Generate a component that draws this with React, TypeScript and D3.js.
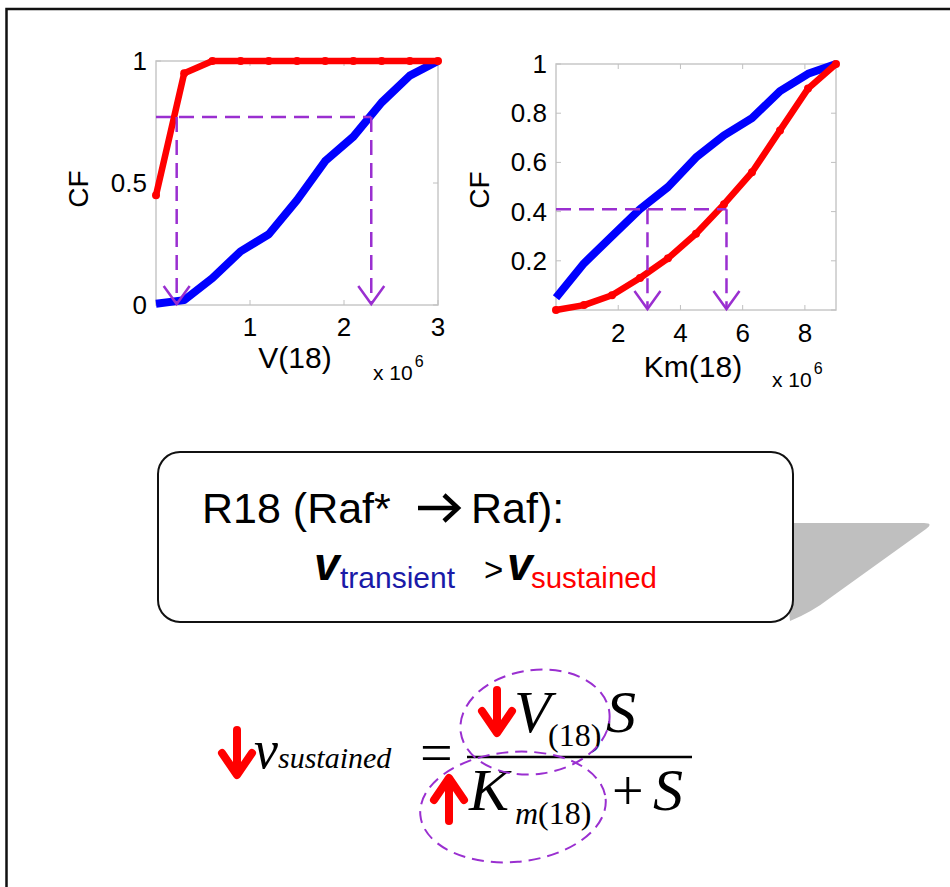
import React from "react";
import * as d3 from "d3";

// ---- Data (x in units of 10^6) ----
const vX = [0, 0.3, 0.6, 0.9, 1.2, 1.5, 1.8, 2.1, 2.4, 2.7, 3.0];
const vSustained = [0.45, 0.95, 1, 1, 1, 1, 1, 1, 1, 1, 1];
const vTransient = [0.005, 0.02, 0.11, 0.22, 0.29, 0.43, 0.59, 0.69, 0.83, 0.94, 1.0];
const vTicksX = [1, 2, 3];
const vTicksY = [0, 0.5, 1];
const vThreshold = 0.77;
const vArrowX = [0.22, 2.29];

const kmX = [0, 0.9, 1.8, 2.7, 3.6, 4.5, 5.4, 6.3, 7.2, 8.1, 9.0];
const kmTransient = [0.05, 0.19, 0.3, 0.41, 0.5, 0.62, 0.71, 0.78, 0.89, 0.96, 1.0];
const kmSustained = [0, 0.02, 0.06, 0.13, 0.21, 0.31, 0.43, 0.56, 0.73, 0.9, 1.0];
const kmTicksX = [2, 4, 6, 8];
const kmTicksY = [0.2, 0.4, 0.6, 0.8, 1];
const kmTicksYMarks = [0, 0.2, 0.4, 0.6, 0.8, 1];
const kmThreshold = 0.41;
const kmArrowX = [2.94, 5.48];

const BLUE = "#0000ff";
const RED = "#ff0000";
const PURPLE = "#9a2fd0";
const SANS = "'Liberation Sans', Arial, sans-serif";
const SERIF = "'Liberation Serif', 'Times New Roman', serif";

type PanelProps = {
  x0: number; x1: number; y0: number; y1: number;
  xDomain: [number, number];
  xs: number[]; red: number[]; blue: number[];
  ticksX: number[]; ticksY: number[]; tickMarksY: number[];
  threshold: number; arrowX: number[];
  xLabel: string; xLabelPos: [number, number];
  expPos: [number, number];
  cfPos: [number, number];
  xTickBaseline: number;
  yLabelRight: number;
};

function Panel(p: PanelProps) {
  const x = d3.scaleLinear().domain(p.xDomain).range([p.x0, p.x1]);
  const y = d3.scaleLinear().domain([0, 1]).range([p.y1, p.y0]);
  const line = d3.line<number>().x((_, i) => x(p.xs[i])).y((d) => y(d));
  const ty = y(p.threshold);
  const xr = x(Math.max(...p.arrowX));
  return (
    <g>
      <rect x={p.x0} y={p.y0} width={p.x1 - p.x0} height={p.y1 - p.y0} fill="none" stroke="#c8c8c8" strokeWidth={1.5} />
      {p.ticksX.map((t) => (
        <g key={"tx" + t}>
          <line x1={x(t)} x2={x(t)} y1={p.y1} y2={p.y1 - 5} stroke="#c0c0c0" />
          <line x1={x(t)} x2={x(t)} y1={p.y0} y2={p.y0 + 5} stroke="#c0c0c0" />
          <text x={x(t)} y={p.xTickBaseline} textAnchor="middle" fontFamily={SANS} fontSize={26} fill="#000">{t}</text>
        </g>
      ))}
      {p.tickMarksY.map((t) => (
        <g key={"tm" + t}>
          <line x1={p.x0} x2={p.x0 + 5} y1={y(t)} y2={y(t)} stroke="#c0c0c0" />
          <line x1={p.x1} x2={p.x1 - 5} y1={y(t)} y2={y(t)} stroke="#c0c0c0" />
        </g>
      ))}
      {p.ticksY.map((t) => (
        <text key={"ty" + t} x={p.yLabelRight} y={y(t) + 9} textAnchor="end" fontFamily={SANS} fontSize={26} fill="#000">{t}</text>
      ))}
      <path d={line(p.blue) || ""} fill="none" stroke={BLUE} strokeWidth={8} strokeLinejoin="round" />
      <path d={line(p.red) || ""} fill="none" stroke={RED} strokeWidth={6.5} strokeLinejoin="round" />
      {p.red.map((v, i) => (
        <circle key={"d" + i} cx={x(p.xs[i])} cy={y(v)} r={4} fill={RED} />
      ))}
      {/* threshold annotation */}
      <line x1={p.x0} x2={xr} y1={ty} y2={ty} stroke={PURPLE} strokeWidth={2.5} strokeDasharray="15 8" />
      {p.arrowX.map((a) => (
        <g key={"a" + a}>
          <line x1={x(a)} x2={x(a)} y1={ty} y2={p.y1 - 2} stroke={PURPLE} strokeWidth={2.5} strokeDasharray="15 8" />
          <path d={`M${x(a) - 13},${p.y1 - 19} L${x(a)},${p.y1 - 1} L${x(a) + 13},${p.y1 - 19}`} fill="none" stroke={PURPLE} strokeWidth={2.5} />
        </g>
      ))}
      <text x={p.xLabelPos[0]} y={p.xLabelPos[1]} textAnchor="middle" fontFamily={SANS} fontSize={30} fill="#000">{p.xLabel}</text>
      <text x={p.expPos[0]} y={p.expPos[1]} fontFamily={SANS} fontSize={21} fill="#000">
        x 10<tspan dy={-13} dx={2} fontSize={16}>6</tspan>
      </text>
      <text transform={`translate(${p.cfPos[0]},${p.cfPos[1]}) rotate(-90)`} textAnchor="middle" fontFamily={SANS} fontSize={28} fill="#000">CF</text>
    </g>
  );
}

function RedArrow({ x, y1, y2, hw, head }: { x: number; y1: number; y2: number; hw: number; head: number }) {
  // y1 = tail, y2 = tip
  const dir = y2 > y1 ? 1 : -1;
  return (
    <g stroke={RED} strokeWidth={8} strokeLinecap="round" strokeLinejoin="round" fill="none">
      <line x1={x} x2={x} y1={y1} y2={y2 - dir * 3} />
      <path d={`M${x - hw},${y2 - dir * head} L${x},${y2} L${x + hw},${y2 - dir * head}`} />
    </g>
  );
}

export default function App() {
  return (
    <svg width={950} height={887} style={{ position: "absolute", left: 0, top: 0, background: "#fff" }}>
      <rect x={0} y={0} width={950} height={887} fill="#fff" />
      <rect x={6.5} y={9} width={1000} height={1000} fill="none" stroke="#111" strokeWidth={2.5} />

      <Panel
        x0={156} x1={438} y0={61} y1={305}
        xDomain={[0, 3]}
        xs={vX} red={vSustained} blue={vTransient}
        ticksX={vTicksX} ticksY={vTicksY} tickMarksY={vTicksY}
        threshold={vThreshold} arrowX={vArrowX}
        xLabel="V(18)" xLabelPos={[295, 368]} expPos={[373, 380]}
        cfPos={[88, 189]} xTickBaseline={336} yLabelRight={147}
      />
      <Panel
        x0={556} x1={836} y0={64} y1={310}
        xDomain={[0, 9]}
        xs={kmX} red={kmSustained} blue={kmTransient}
        ticksX={kmTicksX} ticksY={kmTicksY} tickMarksY={kmTicksYMarks}
        threshold={kmThreshold} arrowX={kmArrowX}
        xLabel="Km(18)" xLabelPos={[693, 377]} expPos={[772, 387]}
        cfPos={[489, 190]} xTickBaseline={342} yLabelRight={547}
      />

      {/* callout box with shadow */}
      <path d="M780,523 L924,523 Q934,523 926,529 L830,598 Q812,612 790,621 Z" fill="#bfbfbf" />
      <rect x={158} y={452} width={635} height={170} rx={22} ry={22} fill="#fff" stroke="#111" strokeWidth={2} />
      <text x={202} y={523} fontFamily={SANS} fontSize={43} fill="#000">R18 (Raf*</text>
      <g stroke="#000" strokeWidth={4.5} fill="none" strokeLinejoin="miter">
        <line x1={418} x2={456} y1={508} y2={508} />
        <path d="M444,495 L458,508 L444,521" />
      </g>
      <text x={471} y={523} fontFamily={SANS} fontSize={43} fill="#000">Raf):</text>

      <text x={314} y={580} fontFamily={SANS} fontSize={46} fontWeight="bold" fontStyle="italic" fill="#000">v</text>
      <text x={340} y={588} fontFamily={SANS} fontSize={29} fill="#1a1aa8" textLength={115} lengthAdjust="spacingAndGlyphs">transient</text>
      <text x={484} y={581} fontFamily={SANS} fontSize={33} fill="#000">&gt;</text>
      <text x={507} y={580} fontFamily={SANS} fontSize={46} fontWeight="bold" fontStyle="italic" fill="#000">v</text>
      <text x={531} y={588} fontFamily={SANS} fontSize={29} fill={RED} textLength={126} lengthAdjust="spacingAndGlyphs">sustained</text>

      {/* formula */}
      <RedArrow x={237} y1={730} y2={775} hw={15} head={22} />
      <text x={254} y={768} fontFamily={SERIF} fontStyle="italic" fill="#000">
        <tspan fontSize={54}>v</tspan>
        <tspan fontSize={30}>sustained</tspan>
      </text>
      <text x={420} y={772} fontFamily={SERIF} fontSize={58} fill="#000">=</text>
      <line x1={467} x2={692} y1={757} y2={757} stroke="#000" strokeWidth={2.5} />

      <RedArrow x={497} y1={690} y2={733} hw={15} head={22} />
      <text x={514} y={732} fontFamily={SERIF} fontSize={60} fontStyle="italic" fill="#000">V</text>
      <text x={548} y={746} fontFamily={SERIF} fontSize={32} fill="#000">(18)</text>
      <text x={606} y={732} fontFamily={SERIF} fontSize={60} fontStyle="italic" fill="#000">S</text>

      <RedArrow x={449} y1={821} y2={778} hw={15} head={22} />
      <text x={469} y={810} fontFamily={SERIF} fontSize={60} fontStyle="italic" fill="#000">K</text>
      <text x={515} y={824} fontFamily={SERIF} fontSize={32} fill="#000">
        <tspan fontStyle="italic">m</tspan>(18)
      </text>
      <text x={612} y={810} fontFamily={SERIF} fontSize={56} fill="#000">+</text>
      <text x={653} y={810} fontFamily={SERIF} fontSize={60} fontStyle="italic" fill="#000">S</text>

      <ellipse cx={535} cy={722} rx={75} ry={52} transform="rotate(-8 535 722)" fill="none" stroke={PURPLE} strokeWidth={2} strokeDasharray="12 7" />
      <ellipse cx={513} cy={807} rx={93} ry={55} transform="rotate(-5 513 807)" fill="none" stroke={PURPLE} strokeWidth={2} strokeDasharray="12 7" />
    </svg>
  );
}
